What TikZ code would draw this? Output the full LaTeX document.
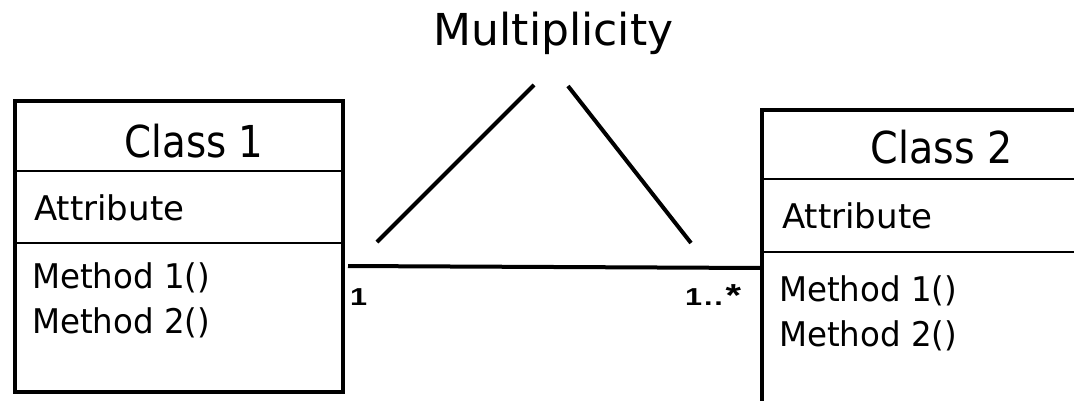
\documentclass[tikz,border=0pt]{standalone}
\usepackage{fontspec}
\setmainfont{DejaVu Sans}
\newfontfamily\lblfont{Liberation Sans}
\begin{document}
\begin{tikzpicture}[x=1pt,y=-1pt,
  classbox/.style={draw, line width=4pt, inner sep=0pt, outer sep=0pt, minimum width=328pt},
  sepline/.style={line width=1.8pt},
  conn/.style={line width=4pt},
  bigtext/.style={font=\fontsize{44}{52}\selectfont, inner sep=0pt, anchor=base},
  smalltext/.style={font=\fontsize{34}{40}\selectfont, inner sep=0pt, anchor=base west},
  multtext/.style={inner sep=0pt, anchor=base west}]
\useasboundingbox (0,0) rectangle (1074,400);
\clip (0,0) rectangle (1074,400);
\fill[white] (0,0) rectangle (1074,400);

% class boxes
\node[classbox, minimum height=291pt] (class1) at (179,246.5) {};
\node[classbox, minimum height=312pt] (class2) at (926,266) {};

% separators
\draw[sepline] (class1.west |- 0,171) -- (class1.east |- 0,171);
\draw[sepline] (class1.west |- 0,243) -- (class1.east |- 0,243);
\draw[sepline] (class2.west |- 0,179) -- (class2.east |- 0,179);
\draw[sepline] (class2.west |- 0,252) -- (class2.east |- 0,252);

% texts
\node[bigtext] (title) at (553.5,45.5) {Multiplicity};
\node[bigtext] (c1name) at (194,157) {\scalebox{0.88}[1]{Class 1}};
\node[bigtext] (c2name) at (941.5,163) {\scalebox{0.9}[1]{Class 2}};
\node[smalltext] (c1attr) at (34,220) {Attribute};
\node[smalltext] (c1m1) at (32,288) {\scalebox{0.955}[1]{Method 1()}};
\node[smalltext] (c1m2) at (32,333) {\scalebox{0.955}[1]{Method 2()}};
\node[smalltext] (c2attr) at (782,228) {Attribute};
\node[smalltext] (c2m1) at (779,301) {\scalebox{0.955}[1]{Method 1()}};
\node[smalltext] (c2m2) at (779,346) {\scalebox{0.955}[1]{Method 2()}};

% association
\coordinate (assocA) at (348,266);
\coordinate (assocB) at (class2.west |- 0,268);
\draw[conn] (assocA) -- (assocB);
\node[multtext] (m1) at (350,305) {\scalebox{1.25}[1]{\lblfont\bfseries\fontsize{24.5}{28}\selectfont 1}};
\node[multtext] (m2) at (685,305) {\scalebox{1.25}[1]{\lblfont\bfseries\fontsize{24.5}{28}\selectfont 1\kern1.5pt.\kern1.5pt.\kern2pt\raisebox{-1pt}{\scalebox{1.3}{*}}}};

% pointer lines
\coordinate (pA1) at (377,242);
\coordinate (pA2) at (534,85);
\coordinate (pB1) at (568,86);
\coordinate (pB2) at (691,243);
\draw[conn] (pA1) -- (pA2);
\draw[conn] (pB1) -- (pB2);
\end{tikzpicture}
\end{document}
